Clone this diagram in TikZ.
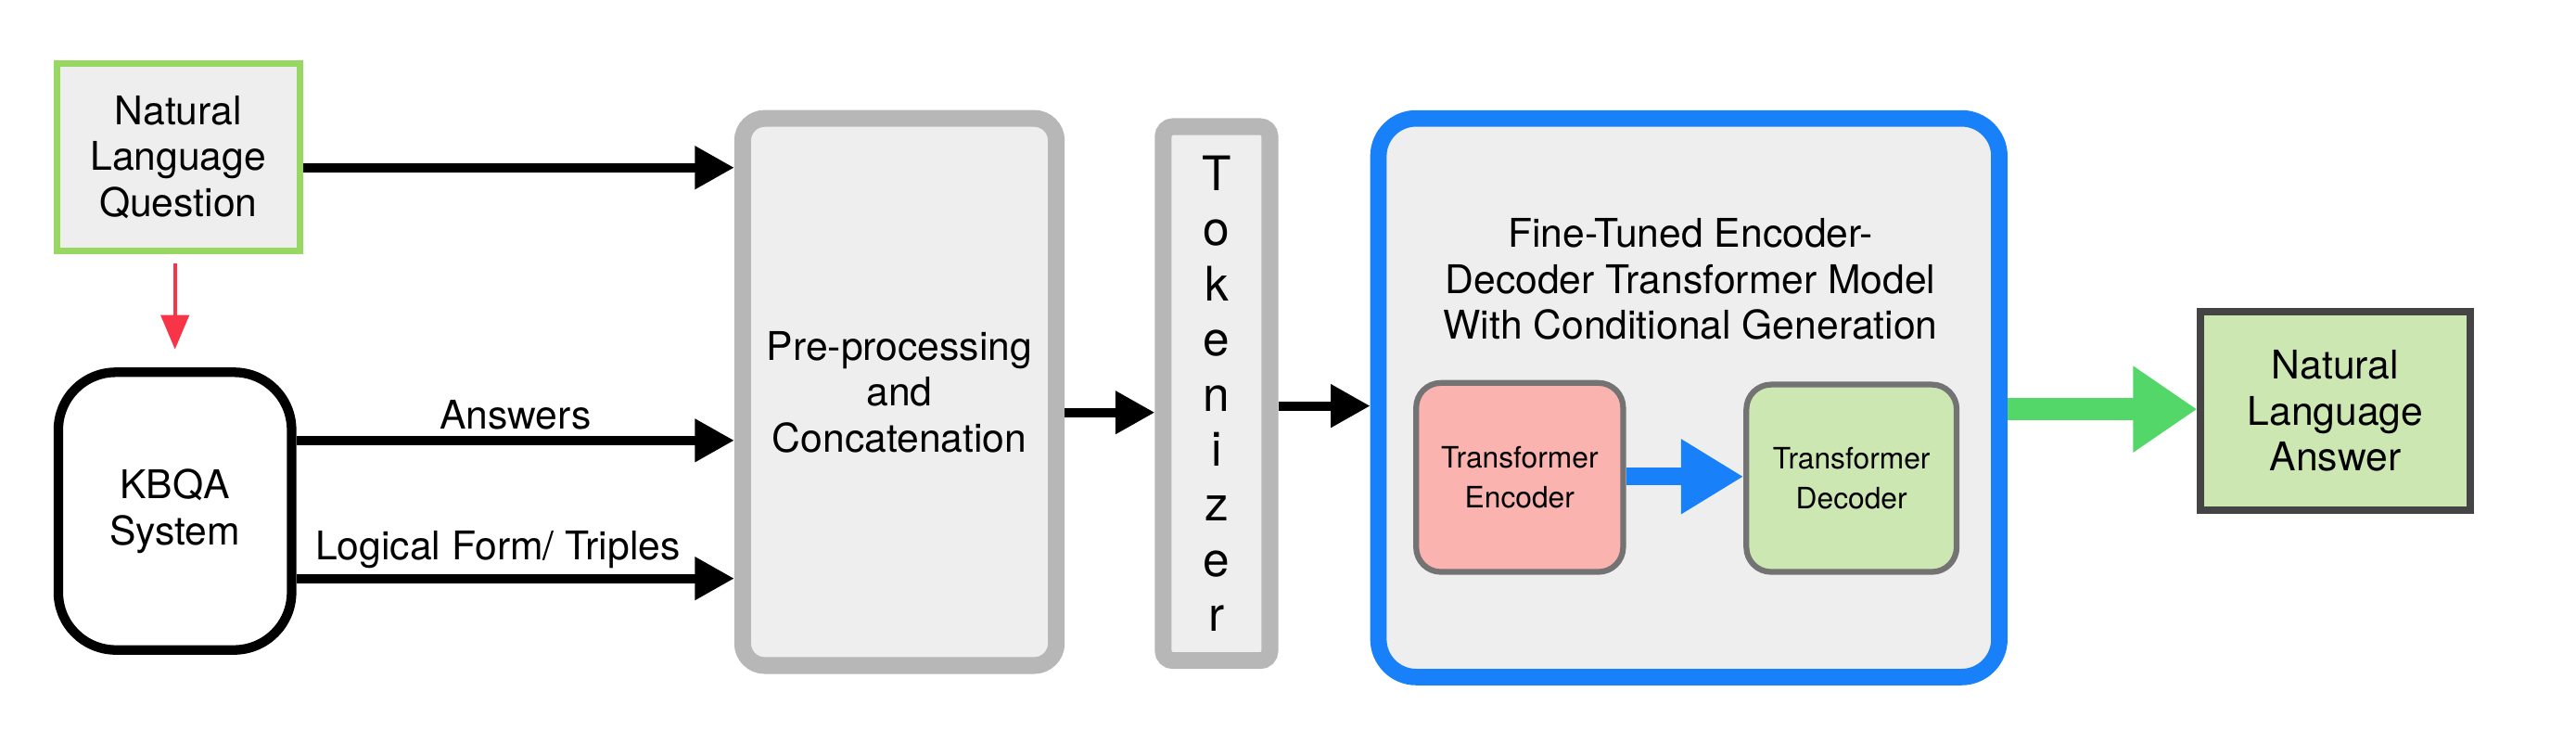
\documentclass[tikz,border=0pt]{standalone}
\usepackage{fontspec}
\setmainfont{TeX Gyre Heros}
\usepackage{tikz}
\usetikzlibrary{arrows.meta, positioning}

\definecolor{qgreen}{RGB}{151,215,98}
\definecolor{qred}{RGB}{247,52,72}
\definecolor{boxgray}{RGB}{183,183,183}
\definecolor{boxfill}{RGB}{238,238,238}
\definecolor{modelblue}{RGB}{24,128,248}
\definecolor{encpink}{RGB}{250,179,174}
\definecolor{decgreen}{RGB}{205,231,179}
\definecolor{innergray}{RGB}{115,115,115}
\definecolor{ansgray}{RGB}{68,68,68}
\definecolor{outgreen}{RGB}{83,215,105}

\begin{document}
\begin{tikzpicture}[x=0.02cm, y=-0.02cm,
    txt/.style={font=\fontsize{13.7}{15.9}\selectfont, align=center},
    small/.style={font=\fontsize{10.2}{13.6}\selectfont, align=center},
    graybox/.style={txt, draw=boxgray, line width=5.8pt, fill=boxfill},
    innerbox/.style={small, draw=innergray, line width=2pt, rounded corners=0.3cm},
    blk/.style={line width=3.2pt, -{Triangle[length=0.48cm, width=0.5cm]}},
    lbl/.style={font=\fontsize{13.7}{16}\selectfont, inner sep=2pt}]
    % 1. Khung hinh
    \useasboundingbox (0,0) rectangle (1568,451.6);

    % 2. Cac khoi
    \node[txt, draw=qgreen, line width=2.2pt, fill=boxfill,
        minimum width=2.96cm, minimum height=2.28cm] (nlq) at (108.5,95.5)
        {Natural\\Language\\Question};
    \node[txt, draw=black, line width=3.3pt, fill=white, rounded corners=0.7cm,
        minimum width=2.84cm, minimum height=3.38cm] (kbqa) at (106.5,311)
        {KBQA\\System};
    \node[graybox, rounded corners=0.27cm,
        minimum width=3.82cm, minimum height=6.66cm] (prep) at (547.5,238.5)
        {Pre-processing\\and\\Concatenation};
    \node[graybox, rounded corners=0.12cm, font=\fontsize{16.5}{19.1}\selectfont,
        minimum width=1.3cm, minimum height=6.5cm] (tok) at (740.5,239.5)
        {T\\o\\k\\e\\n\\i\\z\\e\\r};
    \node[draw=modelblue, line width=5.7pt, fill=boxfill, rounded corners=0.46cm,
        minimum width=7.56cm, minimum height=6.8cm] (model) at (1028,242) {};
    \node[txt] (title) at (1029,170)
        {Fine-Tuned Encoder-\\Decoder Transformer Model\\With Conditional Generation};
    \node[innerbox, fill=encpink, minimum width=2.52cm, minimum height=2.3cm]
        (enc) at (925,290.5) {Transformer\\Encoder};
    \node[innerbox, fill=decgreen, minimum width=2.56cm, minimum height=2.28cm]
        (dec) at (1127,291) {Transformer\\Decoder};
    \node[txt, draw=ansgray, line width=2.5pt, fill=decgreen,
        minimum width=3.28cm, minimum height=2.42cm] (ans) at (1421.5,250)
        {Natural\\Language\\Answer};

    % 3. Cac mui ten
    \draw[blk] (nlq.east |- 0,102) -- (prep.west |- 0,102);
    \draw[qred, line width=1.4pt, -{Triangle[length=0.42cm, width=0.34cm]},
        shorten <=0.12cm, shorten >=0.22cm] (nlq.south -| kbqa.north) -- (kbqa.north);
    \draw[blk] (kbqa.east |- 0,268) -- node[lbl, above] {Answers} (prep.west |- 0,268);
    \draw[blk] (kbqa.east |- 0,352) -- node[lbl, above, pos=0.46] {Logical Form/ Triples}
        (prep.west |- 0,352);
    \draw[blk] (prep.east |- 0,251) -- (tok.west |- 0,251);
    \draw[blk] (tok.east |- 0,247) -- (model.west |- 0,247);
    \draw[modelblue, line width=6.2pt, -{Triangle[length=0.76cm, width=0.86cm]}]
        (enc.east |- 0,290) -- (dec.west |- 0,290);
    \draw[outgreen, line width=7.6pt, -{Triangle[length=0.78cm, width=1.0cm]}]
        (model.east |- 0,249) -- (ans.west |- 0,249);
\end{tikzpicture}
\end{document}
